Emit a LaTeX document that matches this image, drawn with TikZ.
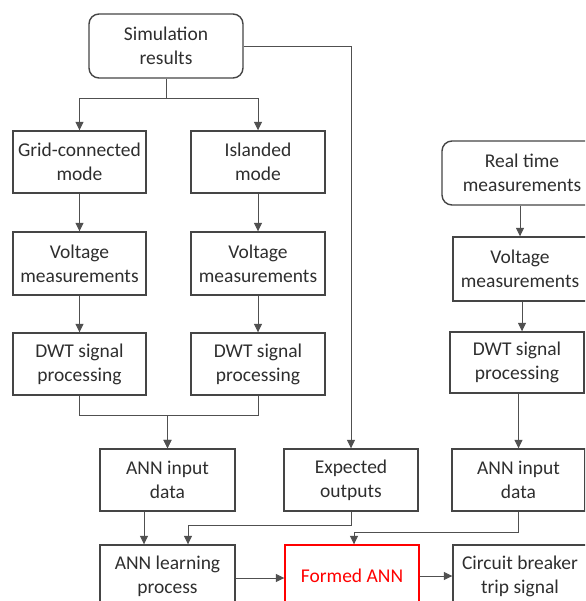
\documentclass[tikz,border=0pt]{standalone}
\usepackage{fontspec}
\setmainfont{Carlito}
\usetikzlibrary{arrows.meta}
\definecolor{boxline}{HTML}{454545}
\definecolor{wireline}{HTML}{505050}
\definecolor{txt}{HTML}{2E2E2E}
\tikzset{
  blk/.style={draw=boxline, line width=1.4pt, rectangle, align=center,
    text=txt, font=\fontsize{19.5}{24}\selectfont, inner sep=0pt},
  rblk/.style={blk, rounded corners=10pt},
  redblk/.style={blk, draw=red, text=red},
  arr/.style={draw=wireline, line width=0.8pt,
    -{Triangle[length=8.5pt,width=8pt]}},
  wire/.style={draw=wireline, line width=0.8pt}
}
\begin{document}
\begin{tikzpicture}[x=1pt,y=-1pt]
\useasboundingbox (0,0) rectangle (585,601);
\clip (0,0) rectangle (585,601);

% simulation branch
\node[rblk, minimum width=154pt, minimum height=64pt] (sim) at (166,46) {Simulation\\results};
\node[blk, minimum width=133pt, minimum height=62pt] (grid) at (79.5,162) {Grid-connected\\mode};
\node[blk, minimum width=134pt, minimum height=62pt] (island) at (258,162) {Islanded\\mode};
\node[blk, minimum width=133pt, minimum height=63pt] (vL) at (79.5,263.5) {Voltage\\measurements};
\node[blk, minimum width=134pt, minimum height=63pt] (vR) at (258,263.5) {Voltage\\measurements};
\node[blk, minimum width=133pt, minimum height=62pt] (dL) at (79.5,364) {DWT signal\\processing};
\node[blk, minimum width=134pt, minimum height=62pt] (dR) at (258,364) {DWT signal\\processing};

% real time branch
\node[rblk, minimum width=160pt, minimum height=64pt] (rt) at (522,173) {Real time\\measurements};
\node[blk, minimum width=134pt, minimum height=64pt] (vRT) at (520,269) {Voltage\\measurements};
\node[blk, minimum width=134pt, minimum height=61pt] (dRT) at (517,362.5) {DWT signal\\processing};

% ANN stage
\node[blk, minimum width=135pt, minimum height=62pt] (annL) at (167.5,480) {ANN input\\data};
\node[blk, minimum width=134pt, minimum height=62pt] (exp) at (351,480) {Expected\\outputs};
\node[blk, minimum width=133pt, minimum height=62pt] (annR) at (518.5,480) {ANN input\\data};
\node[blk, minimum width=135pt, minimum height=62pt] (learn) at (167.5,576) {ANN learning\\process};
\node[redblk, minimum width=134pt, minimum height=62pt] (formed) at (352,576) {Formed ANN};
\node[blk, minimum width=134pt, minimum height=62pt] (cb) at (520,576) {Circuit breaker\\trip signal};

% connectors
\draw[arr] (sim.south) -- ++(0,20) -| (grid.north);
\draw[arr] (sim.south) -- ++(0,20) -| (island.north);
\draw[arr] (sim.east) -| (exp.north);
\draw[arr] (grid) -- (vL);
\draw[arr] (island) -- (vR);
\draw[arr] (vL) -- (dL);
\draw[arr] (vR) -- (dR);
\draw[arr] (dL.south) -- ++(0,20) -| (annL.north);
\draw[arr] (dR.south) -- ++(0,20) -| (annL.north);

\draw[arr] (vRT.north |- rt.south) -- (vRT.north);
\draw[arr] ([xshift=2pt]vRT.south) -- ([xshift=2pt]vRT.south |- dRT.north);
\draw[arr] (dRT.south -| annR.north) -- (annR.north);

\draw[arr] ([xshift=-23.5pt]annL.south) -- ([xshift=-23.5pt]learn.north);
\draw[arr] (exp.south) -- ++(0,14) -| ([xshift=20.5pt]learn.north);
\draw[arr] (annR.south) -- ++(0,21) -| ([xshift=2pt]formed.north);
\draw[arr] ([yshift=-2pt]learn.east) -- ([yshift=-2pt]learn.east -| formed.west);
\draw[arr] (formed) -- (cb);
\end{tikzpicture}
\end{document}
